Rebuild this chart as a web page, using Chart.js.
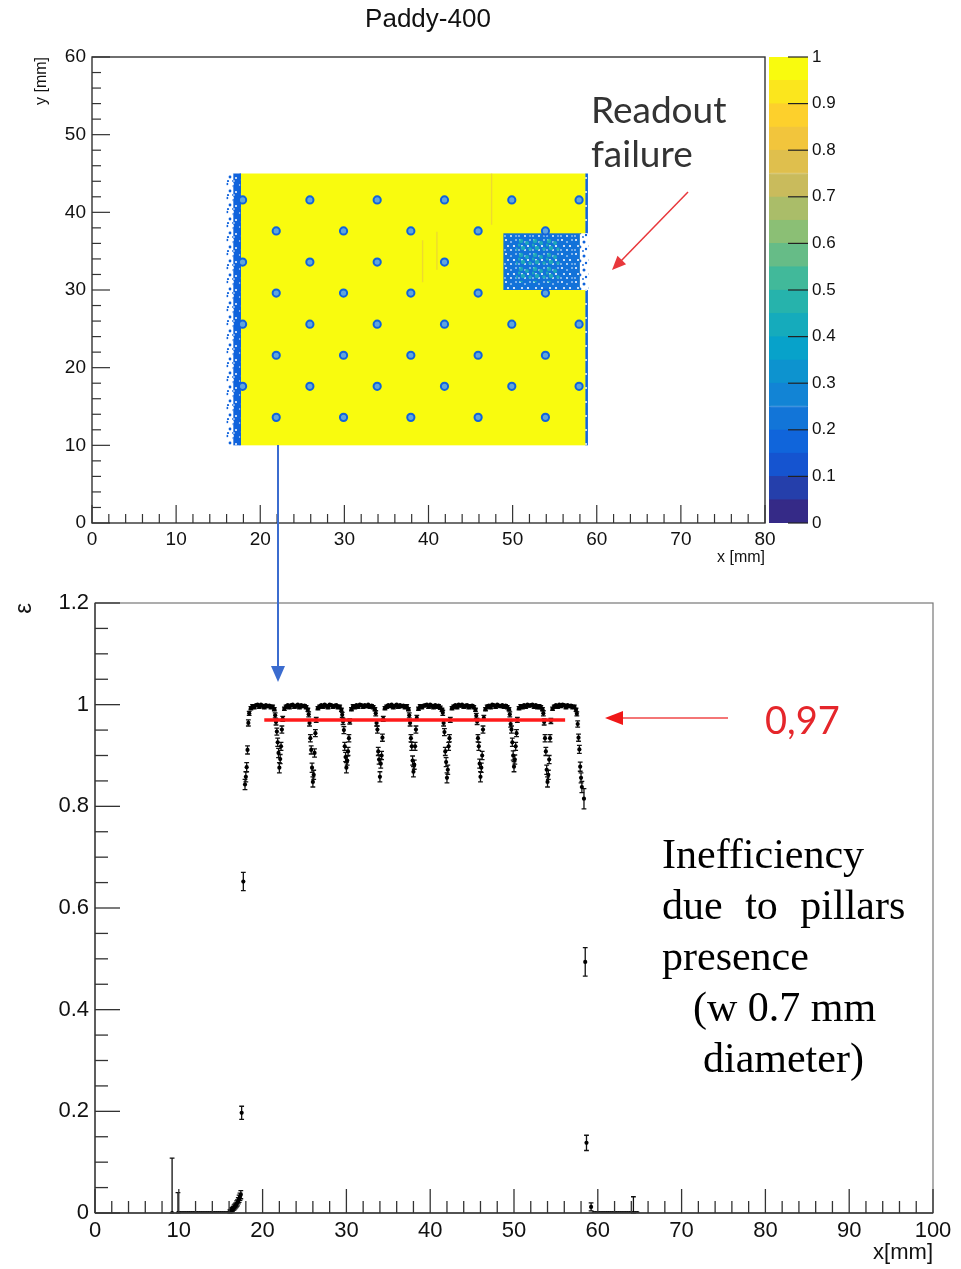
<!DOCTYPE html>
<html>
<head>
<meta charset="utf-8">
<script src="https://cdn.jsdelivr.net/npm/chart.js@4.4.1/dist/chart.umd.min.js"></script>
<style>
  body { margin: 0; background: #fff; width: 961px; height: 1269px; position: relative; overflow: hidden; }
  canvas { position: absolute; }
  #mapChart { left: 0; top: 0; }
  #paletteChart { left: 768px; top: 40px; }
  #profileChart { left: 0; top: 580px; }
  .note { position: absolute; white-space: nowrap; }
  .lato { font-family: Lato, "Open Sans", sans-serif; }
  .serif { font-family: "Liberation Serif", "DejaVu Serif", serif; color: #000; }
  svg { position: absolute; left: 0; top: 0; pointer-events: none; }
</style>
</head>
<body>
<canvas id="mapChart" width="800" height="575"></canvas>
<canvas id="paletteChart" width="100" height="500"></canvas>
<canvas id="profileChart" width="961" height="689"></canvas>

<div class="note" style="left:328px;top:3px;width:200px;text-align:center;font-family:'Liberation Sans',Arial,sans-serif;font-size:26px;color:#111">Paddy-400</div>
<div class="note lato" style="left:591px;top:87px;font-size:37px;line-height:44px;color:#333">Readout<br>failure</div>
<div class="note lato" style="left:765px;top:696px;font-size:38px;color:#e5262b">0,97</div>
<div class="note serif" style="left:662px;top:829px;font-size:42px;line-height:51px">
  <div>Inefficiency</div>
  <div style="word-spacing:12px">due to pillars</div>
  <div>presence</div>
  <div style="margin-left:31px">(w 0.7 mm</div>
  <div style="margin-left:41px">diameter)</div>
</div>

<svg width="961" height="1269">
  <line x1="688" y1="192" x2="620" y2="262" stroke="#e8383c" stroke-width="1.5"/>
  <polygon points="612,270 626.1,264.2 617.5,255.8" fill="#e8383c"/>
  <line x1="728" y1="718" x2="620" y2="718" stroke="#f04848" stroke-width="1.5"/>
  <polygon points="605,718 623,711 623,725" fill="#f01818"/>
  <line x1="278" y1="445" x2="278" y2="668" stroke="#3b6ccf" stroke-width="2"/>
  <polygon points="278,682 271,666 285,666" fill="#3b6ccf"/>
</svg>

<script>
// ---- efficiency map (x, y in mm) ----
const activeX = [17.7, 58.7];
const activeY = [10, 45];
const activeEff = 1.0;
const edgeBandX = [16.0, 16.8, 17.7];
const rightEdgeX = [58.65, 58.95];
const edgeEff = 0.15;
const failX = [48.9, 58.0, 58.9];
const failY = [30.0, 37.3];
const failEff = 0.2;
const failCoreX = [50.4, 55.6];
const failCoreY = [31.0, 36.6];
const failCoreEff = 0.45;
const weakStripX = [47.5, 41.0, 39.3];
const weakStripY0 = [38.4, 32.6, 31.0];
const weakStripY1 = [45.0, 37.5, 36.4];
const weakStripEff = 0.8;
const pillarRowY = [41.6, 37.6, 33.6, 29.6, 25.6, 21.6, 17.6, 13.6];
const pillarRowX = [
  [17.9, 25.9, 33.9, 41.9, 49.9, 57.9],
  [21.9, 29.9, 37.9, 45.9, 53.9],
  [17.9, 25.9, 33.9, 41.9],
  [21.9, 29.9, 37.9, 45.9, 53.9],
  [17.9, 25.9, 33.9, 41.9, 49.9, 57.9],
  [21.9, 29.9, 37.9, 45.9, 53.9],
  [17.9, 25.9, 33.9, 41.9, 49.9, 57.9],
  [21.9, 29.9, 37.9, 45.9, 53.9]
];
const pillarEff = 0.15;

// palette contour levels
const paletteLevels = [0, 0.05, 0.1, 0.15, 0.2, 0.25, 0.3, 0.35, 0.4, 0.45, 0.5,
  0.55, 0.6, 0.65, 0.7, 0.75, 0.8, 0.85, 0.9, 0.95, 1];

// ---- efficiency profile along x ----
const profileX = [
  9.2, 9.9,
  10.0, 10.25, 10.5, 10.75, 11.0, 11.25, 11.5, 11.75, 12.0, 12.25, 12.5, 12.75, 13.0,
  13.25, 13.5, 13.75, 14.0, 14.25, 14.5, 14.75, 15.0, 15.25, 15.5, 15.75, 16.0,
  16.1, 16.2, 16.3, 16.4, 16.5, 16.6, 16.7, 16.8, 16.9, 17.0, 17.1, 17.2, 17.3, 17.4,
  17.5, 17.7, 17.9, 18.0, 18.1, 18.2, 18.3, 18.4,
  18.6, 18.8, 19.0, 19.2, 19.4, 19.6, 19.8, 20.0, 20.2, 20.4, 20.6, 20.8, 21.0, 21.2, 21.4,
  21.5, 21.6, 21.7, 21.8, 21.9, 22.0, 22.1, 22.2, 22.3, 22.4,
  22.6, 22.8, 23.0, 23.2, 23.4, 23.6, 23.8, 24.0, 24.2, 24.4, 24.6, 24.8, 25.0, 25.2, 25.4,
  25.5, 25.6, 25.7, 25.8, 25.9, 26.0, 26.1, 26.2, 26.3, 26.4,
  26.6, 26.8, 27.0, 27.2, 27.4, 27.6, 27.8, 28.0, 28.2, 28.4, 28.6, 28.8, 29.0, 29.2, 29.4,
  29.5, 29.6, 29.7, 29.8, 29.9, 30.0, 30.1, 30.2, 30.3, 30.4,
  30.6, 30.8, 31.0, 31.2, 31.4, 31.6, 31.8, 32.0, 32.2, 32.4, 32.6, 32.8, 33.0, 33.2, 33.4,
  33.5, 33.6, 33.7, 33.8, 33.9, 34.0, 34.1, 34.2, 34.3, 34.4,
  34.6, 34.8, 35.0, 35.2, 35.4, 35.6, 35.8, 36.0, 36.2, 36.4, 36.6, 36.8, 37.0, 37.2, 37.4,
  37.5, 37.6, 37.7, 37.8, 37.9, 38.0, 38.1, 38.2, 38.3, 38.4,
  38.6, 38.8, 39.0, 39.2, 39.4, 39.6, 39.8, 40.0, 40.2, 40.4, 40.6, 40.8, 41.0, 41.2, 41.4,
  41.5, 41.6, 41.7, 41.8, 41.9, 42.0, 42.1, 42.2, 42.3, 42.4,
  42.6, 42.8, 43.0, 43.2, 43.4, 43.6, 43.8, 44.0, 44.2, 44.4, 44.6, 44.8, 45.0, 45.2, 45.4,
  45.5, 45.6, 45.7, 45.8, 45.9, 46.0, 46.1, 46.2, 46.3, 46.4,
  46.6, 46.8, 47.0, 47.2, 47.4, 47.6, 47.8, 48.0, 48.2, 48.4, 48.6, 48.8, 49.0, 49.2, 49.4,
  49.5, 49.6, 49.7, 49.8, 49.9, 50.0, 50.1, 50.2, 50.3, 50.4,
  50.6, 50.8, 51.0, 51.2, 51.4, 51.6, 51.8, 52.0, 52.2, 52.4, 52.6, 52.8, 53.0, 53.2, 53.4,
  53.5, 53.6, 53.7, 53.8, 53.9, 54.0, 54.1, 54.2, 54.3, 54.4,
  54.6, 54.8, 55.0, 55.2, 55.4, 55.6, 55.8, 56.0, 56.2, 56.4, 56.6, 56.8, 57.0, 57.2, 57.4,
  57.5, 57.6, 57.7, 57.8, 57.9, 58.0, 58.1, 58.35, 58.5, 58.65, 59.2,
  59.5, 59.75, 60.0, 60.25, 60.5, 60.75, 61.0, 61.25, 61.5, 61.75, 62.0,
  62.25, 62.5, 62.75, 63.0, 63.25, 63.5, 63.75, 64.0, 64.25, 64.5, 64.75
];
const profileEff = [
  0, 0,
  0, 0, 0, 0, 0, 0, 0, 0, 0, 0, 0, 0, 0,
  0, 0, 0, 0, 0, 0, 0, 0, 0, 0, 0, 0,
  0.003, 0.004, 0.006, 0.007, 0.009, 0.011, 0.013, 0.015, 0.018, 0.02, 0.024, 0.028, 0.032, 0.036,
  0.197, 0.652, 0.843, 0.858, 0.877, 0.911, 0.964, 0.983,
  0.993, 0.997, 0.995, 0.999, 1.0, 0.996, 1.0, 0.998, 0.995, 0.999, 0.997, 0.998, 0.995, 0.996, 0.991,
  0.979, 0.966, 0.947, 0.926, 0.905, 0.876, 0.893, 0.918, 0.951, 0.972,
  0.992, 0.996, 0.999, 0.995, 0.999, 1.0, 0.996, 0.998, 1.0, 0.995, 0.999, 0.997, 0.998, 0.995, 0.99,
  0.981, 0.964, 0.934, 0.911, 0.876, 0.848, 0.862, 0.905, 0.944, 0.97,
  0.993, 0.996, 0.999, 0.996, 1.0, 0.998, 0.995, 1.0, 0.999, 0.996, 0.998, 0.999, 0.995, 0.996, 0.99,
  0.98, 0.967, 0.95, 0.918, 0.897, 0.876, 0.89, 0.908, 0.934, 0.967,
  0.991, 0.997, 0.995, 0.999, 0.996, 1.0, 0.999, 0.996, 0.999, 0.997, 1.0, 0.996, 0.998, 0.995, 0.991,
  0.983, 0.964, 0.951, 0.908, 0.892, 0.858, 0.884, 0.9, 0.935, 0.972,
  0.993, 0.996, 0.999, 0.997, 1.0, 0.995, 0.998, 1.0, 0.996, 0.999, 0.997, 0.998, 0.995, 0.997, 0.991,
  0.979, 0.964, 0.934, 0.918, 0.89, 0.868, 0.882, 0.918, 0.951, 0.974,
  0.992, 0.997, 0.995, 0.998, 0.999, 1.0, 0.996, 1.0, 0.998, 0.995, 0.999, 0.996, 0.998, 0.994, 0.99,
  0.984, 0.964, 0.946, 0.908, 0.887, 0.856, 0.872, 0.918, 0.934, 0.97,
  0.993, 0.996, 0.999, 0.995, 1.0, 0.998, 1.0, 0.996, 0.998, 0.999, 0.995, 0.997, 0.998, 0.995, 0.99,
  0.978, 0.967, 0.934, 0.918, 0.884, 0.858, 0.876, 0.9, 0.951, 0.974,
  0.991, 0.996, 0.998, 0.995, 1.0, 0.999, 0.996, 1.0, 0.998, 0.997, 0.999, 0.996, 0.998, 0.995, 0.991,
  0.981, 0.962, 0.951, 0.926, 0.9, 0.878, 0.892, 0.918, 0.944, 0.97,
  0.993, 0.997, 0.995, 0.999, 0.996, 1.0, 0.998, 0.999, 1.0, 0.996, 0.999, 0.995, 0.997, 0.995, 0.991,
  0.983, 0.966, 0.934, 0.908, 0.872, 0.848, 0.862, 0.892, 0.934, 0.968,
  0.992, 0.996, 0.999, 0.996, 1.0, 0.997, 1.0, 0.999, 0.995, 0.999, 0.997, 0.998, 0.995, 0.996, 0.99,
  0.982, 0.962, 0.935, 0.912, 0.878, 0.856, 0.838, 0.815, 0.494, 0.138, 0.012,
  0, 0, 0, 0, 0, 0, 0, 0, 0, 0, 0,
  0, 0, 0, 0, 0, 0, 0, 0, 0, 0, 0
];
const profileErr = [
  0.108, 0.04,
  0, 0, 0, 0, 0, 0, 0, 0, 0, 0, 0, 0, 0,
  0, 0, 0, 0, 0, 0, 0, 0, 0, 0, 0, 0,
  0.003, 0.003, 0.004, 0.004, 0.004, 0.005, 0.005, 0.005, 0.006, 0.006, 0.006, 0.007, 0.007, 0.008,
  0.013, 0.018, 0.01, 0.01, 0.009, 0.008, 0.006, 0.004,
  0.003, 0.003, 0.003, 0.003, 0.003, 0.003, 0.003, 0.003, 0.003, 0.003, 0.003, 0.003, 0.003, 0.003, 0.003,
  0.005, 0.006, 0.007, 0.008, 0.009, 0.01, 0.009, 0.008, 0.007, 0.005,
  0.003, 0.003, 0.003, 0.003, 0.003, 0.003, 0.003, 0.003, 0.003, 0.003, 0.003, 0.003, 0.003, 0.003, 0.003,
  0.005, 0.006, 0.007, 0.008, 0.009, 0.01, 0.009, 0.008, 0.007, 0.005,
  0.003, 0.003, 0.003, 0.003, 0.003, 0.003, 0.003, 0.003, 0.003, 0.003, 0.003, 0.003, 0.003, 0.003, 0.003,
  0.005, 0.006, 0.007, 0.008, 0.009, 0.01, 0.009, 0.008, 0.007, 0.005,
  0.003, 0.003, 0.003, 0.003, 0.003, 0.003, 0.003, 0.003, 0.003, 0.003, 0.003, 0.003, 0.003, 0.003, 0.003,
  0.005, 0.006, 0.007, 0.008, 0.009, 0.01, 0.009, 0.008, 0.007, 0.005,
  0.003, 0.003, 0.003, 0.003, 0.003, 0.003, 0.003, 0.003, 0.003, 0.003, 0.003, 0.003, 0.003, 0.003, 0.003,
  0.005, 0.006, 0.007, 0.008, 0.009, 0.01, 0.009, 0.008, 0.007, 0.005,
  0.003, 0.003, 0.003, 0.003, 0.003, 0.003, 0.003, 0.003, 0.003, 0.003, 0.003, 0.003, 0.003, 0.003, 0.003,
  0.005, 0.006, 0.007, 0.008, 0.009, 0.01, 0.009, 0.008, 0.007, 0.005,
  0.003, 0.003, 0.003, 0.003, 0.003, 0.003, 0.003, 0.003, 0.003, 0.003, 0.003, 0.003, 0.003, 0.003, 0.003,
  0.005, 0.006, 0.007, 0.008, 0.009, 0.01, 0.009, 0.008, 0.007, 0.005,
  0.003, 0.003, 0.003, 0.003, 0.003, 0.003, 0.003, 0.003, 0.003, 0.003, 0.003, 0.003, 0.003, 0.003, 0.003,
  0.005, 0.006, 0.007, 0.008, 0.009, 0.01, 0.009, 0.008, 0.007, 0.005,
  0.003, 0.003, 0.003, 0.003, 0.003, 0.003, 0.003, 0.003, 0.003, 0.003, 0.003, 0.003, 0.003, 0.003, 0.003,
  0.005, 0.006, 0.007, 0.008, 0.009, 0.01, 0.009, 0.008, 0.007, 0.005,
  0.003, 0.003, 0.003, 0.003, 0.003, 0.003, 0.003, 0.003, 0.003, 0.003, 0.003, 0.003, 0.003, 0.003, 0.003,
  0.004, 0.006, 0.007, 0.008, 0.009, 0.01, 0.011, 0.02, 0.028, 0.015, 0.008,
  0, 0, 0, 0, 0, 0, 0, 0, 0, 0, 0,
  0, 0, 0, 0, 0, 0, 0, 0, 0.032, 0, 0
];
const plateauX = [20.2, 56.1];
const plateauEff = 0.97;

// ROOT "bird" palette
const birdStops = [0, 0.125, 0.25, 0.375, 0.5, 0.625, 0.75, 0.875, 1];
const birdR = [0.2082, 0.0592, 0.0780, 0.0232, 0.1802, 0.5301, 0.8186, 0.9956, 0.9764];
const birdG = [0.1664, 0.3599, 0.5041, 0.6419, 0.7178, 0.7492, 0.7328, 0.7862, 0.9832];
const birdB = [0.5293, 0.8684, 0.8385, 0.7914, 0.6425, 0.4662, 0.3499, 0.1968, 0.0539];

function birdColor(t, alpha = 1) {
  t = Math.min(1, Math.max(0, t));
  let i = 0;
  while (i < birdStops.length - 2 && t > birdStops[i + 1]) i++;
  const f = (t - birdStops[i]) / (birdStops[i + 1] - birdStops[i]);
  const c = k => Math.round(255 * (k[i] + f * (k[i + 1] - k[i])));
  return `rgba(${c(birdR)},${c(birdG)},${c(birdB)},${alpha})`;
}

// "1" instead of "1.0", as ROOT prints it
const plainNumber = v => String(+Number(v).toFixed(3));

Chart.defaults.font.family = '"Liberation Sans", Arial, Helvetica, sans-serif';
Chart.defaults.color = '#111';

// speckle tiles for the noisy border / dead readout areas
const holesFew = [[2, 3, 1.1], [9, 2, 0.9], [6, 8, 1.2], [12, 10, 1.0], [3, 12, 0.9], [10, 13, 0.8]];
const holesMany = [[2, 2, 1.0], [7, 4, 0.8], [12, 2, 0.8], [4, 8, 1.0], [10, 8, 1.1],
  [1, 12, 0.8], [7, 12, 0.9], [12, 12, 0.7]];
const spotsSparse = [[3, 2, 1.3], [10, 4, 1.5], [6, 9, 1.4], [1, 8, 1.0], [12, 11, 1.2], [4, 13, 1.1], [9, 13, 0.9]];
const spotsTeal = [[3, 3, 2.2], [9, 5, 2.0], [5, 10, 2.3], [12, 11, 1.8], [1, 7, 1.6]];

function makeTile(base, dots, dotColor) {
  const tile = document.createElement('canvas');
  tile.width = tile.height = 14;
  const g = tile.getContext('2d');
  g.fillStyle = base;
  g.fillRect(0, 0, 14, 14);
  g.fillStyle = dotColor;
  dots.forEach(([dx, dy, r]) => {
    g.beginPath();
    g.arc(dx, dy, r, 0, 2 * Math.PI);
    g.fill();
  });
  return tile;
}

// draws the binned map areas through the chart scales
const effMapLayer = {
  id: 'effMapLayer',
  beforeDatasetsDraw(chart) {
    const { ctx, chartArea: a, scales: { x, y } } = chart;
    const rect = (x0, x1, y0, y1, fill) => {
      const l = x.getPixelForValue(x0), r = x.getPixelForValue(x1);
      const t = y.getPixelForValue(y1), b = y.getPixelForValue(y0);
      ctx.fillStyle = fill;
      ctx.fillRect(l, t, r - l, b - t);
    };
    const pat = (base, dots, dotColor) => ctx.createPattern(makeTile(base, dots, dotColor), 'repeat');
    const edgeBlue = birdColor(edgeEff);

    ctx.save();
    ctx.beginPath();
    ctx.rect(a.left, a.top, a.right - a.left, a.bottom - a.top);
    ctx.clip();

    rect(activeX[0], activeX[1], activeY[0], activeY[1], birdColor(activeEff));
    rect(edgeBandX[0], edgeBandX[1], activeY[0], activeY[1], pat('#ffffff', spotsSparse, edgeBlue));
    rect(edgeBandX[1], edgeBandX[2], activeY[0], activeY[1], pat(edgeBlue, holesFew, '#ffffff'));
    rect(edgeBandX[2] - 0.15, edgeBandX[2], activeY[0], activeY[1], edgeBlue);
    rect(rightEdgeX[0], rightEdgeX[1], activeY[0], activeY[1], pat(edgeBlue, holesFew, '#ffffff'));

    rect(failX[0], failX[1], failY[0], failY[1], pat(birdColor(failEff), holesMany, '#ffffff'));
    rect(failCoreX[0], failCoreX[1], failCoreY[0], failCoreY[1], pat('rgba(0,0,0,0)', spotsTeal, birdColor(failCoreEff, 0.85)));
    rect(failX[1], failX[2] + 0.1, failY[0], failY[1], pat('#ffffff', spotsSparse, edgeBlue));

    weakStripX.forEach((sx, i) => {
      rect(sx - 0.08, sx + 0.08, weakStripY0[i], weakStripY1[i], birdColor(weakStripEff, 0.55));
    });
    ctx.restore();
  }
};

// ROOT style frame with ticks pointing inwards
const rootAxes = {
  id: 'rootAxes',
  afterDraw(chart, args, opts) {
    const { ctx, chartArea: a } = chart;
    ctx.save();
    if (opts.frame) {
      ctx.strokeStyle = opts.frameColor;
      ctx.lineWidth = opts.frameWidth;
      ctx.strokeRect(a.left, a.top, a.right - a.left, a.bottom - a.top);
    }
    ctx.strokeStyle = opts.tickColor;
    (opts.axes || []).forEach(ax => {
      const s = chart.scales[ax.id];
      const n = Math.round((s.max - s.min) / ax.minor);
      const every = Math.round(ax.major / ax.minor);
      ctx.lineWidth = ax.width;
      if (ax.line) {
        ctx.beginPath();
        if (ax.side === 'bottom') { ctx.moveTo(a.left, a.bottom); ctx.lineTo(a.right, a.bottom); }
        if (ax.side === 'left') { ctx.moveTo(a.left, a.top); ctx.lineTo(a.left, a.bottom); }
        ctx.stroke();
      }
      for (let i = 0; i <= n; i++) {
        const p = s.getPixelForValue(s.min + i * ax.minor);
        const len = i % every === 0 ? ax.majorLen : ax.minorLen;
        ctx.beginPath();
        if (ax.side === 'bottom') { ctx.moveTo(p, a.bottom); ctx.lineTo(p, a.bottom - len); }
        else if (ax.side === 'left') { ctx.moveTo(a.left, p); ctx.lineTo(a.left + len, p); }
        else { ctx.moveTo(a.right, p); ctx.lineTo(a.right - len, p); }
        ctx.stroke();
      }
    });
    ctx.restore();
  }
};

// vertical error bars with end caps, clamped to [0, 1]
const errorBars = {
  id: 'errorBars',
  beforeDatasetsDraw(chart) {
    const { ctx, scales: { x, y } } = chart;
    ctx.save();
    ctx.strokeStyle = '#111';
    ctx.lineWidth = 1.3;
    profileX.forEach((vx, i) => {
      const e = profileErr[i];
      if (!e) return;
      const px = x.getPixelForValue(vx);
      const lo = y.getPixelForValue(Math.max(0, profileEff[i] - e));
      const hi = y.getPixelForValue(Math.min(1, profileEff[i] + e));
      ctx.beginPath();
      ctx.moveTo(px, lo); ctx.lineTo(px, hi);
      ctx.moveTo(px - 2.4, lo); ctx.lineTo(px + 2.4, lo);
      ctx.moveTo(px - 2.4, hi); ctx.lineTo(px + 2.4, hi);
      ctx.stroke();
    });
    ctx.restore();
  }
};

// ---- 2D efficiency map ----
const pillarPoints = [];
pillarRowY.forEach((py, r) => pillarRowX[r].forEach(px => pillarPoints.push({ x: px, y: py })));

new Chart(document.getElementById('mapChart'), {
  type: 'scatter',
  data: {
    datasets: [{
      data: pillarPoints,
      pointRadius: 3.6,
      pointBackgroundColor: 'rgb(95,165,220)',
      pointBorderColor: birdColor(pillarEff),
      pointBorderWidth: 2
    }]
  },
  options: {
    responsive: false,
    animation: false,
    layout: { padding: { top: 57, right: 35, left: 0, bottom: 0 } },
    plugins: {
      legend: { display: false },
      tooltip: { enabled: false },
      rootAxes: {
        frame: true, frameColor: '#333', frameWidth: 1.4, tickColor: '#333',
        axes: [
          { id: 'x', side: 'bottom', major: 10, minor: 2, majorLen: 18, minorLen: 9, width: 1.2 },
          { id: 'y', side: 'left', major: 10, minor: 2, majorLen: 18, minorLen: 9, width: 1.2 }
        ]
      }
    },
    scales: {
      x: {
        type: 'linear', min: 0, max: 80,
        ticks: { stepSize: 10, font: { size: 19 }, padding: 5, autoSkip: false, callback: plainNumber },
        grid: { display: false, drawTicks: false },
        border: { display: false },
        title: { display: true, text: 'x [mm]', align: 'end', font: { size: 16 }, padding: { top: 0, bottom: 8 } },
        afterFit: s => { s.height = 52; }
      },
      y: {
        type: 'linear', min: 0, max: 60,
        ticks: { stepSize: 10, font: { size: 19 }, padding: 6, callback: plainNumber },
        grid: { display: false, drawTicks: false },
        border: { display: false },
        title: { display: true, text: 'y [mm]', align: 'end', font: { size: 16 }, padding: { top: 32, bottom: 0 } },
        afterFit: s => { s.width = 92; }
      }
    }
  },
  plugins: [effMapLayer, rootAxes]
});

// ---- palette axis ----
new Chart(document.getElementById('paletteChart'), {
  type: 'bar',
  data: {
    labels: ['eff'],
    datasets: paletteLevels.slice(0, -1).map((lo, i) => ({
      data: [[lo, paletteLevels[i + 1]]],
      backgroundColor: birdColor(i / (paletteLevels.length - 2)),
      borderColor: birdColor(i / (paletteLevels.length - 2)),
      borderWidth: 1,
      borderSkipped: false,
      barPercentage: 1,
      categoryPercentage: 1,
      grouped: false
    }))
  },
  options: {
    responsive: false,
    animation: false,
    layout: { padding: { top: 17, bottom: 17, left: 1, right: 0 } },
    plugins: {
      legend: { display: false },
      tooltip: { enabled: false },
      rootAxes: {
        frame: false, tickColor: '#222',
        axes: [{ id: 'y', side: 'right', major: 0.1, minor: 0.1, majorLen: 20, minorLen: 20, width: 1.2 }]
      }
    },
    scales: {
      x: { display: false },
      y: {
        position: 'right', min: 0, max: 1,
        ticks: { stepSize: 0.1, font: { size: 17 }, padding: 4, callback: plainNumber },
        grid: { display: false, drawTicks: false },
        border: { display: false },
        afterFit: s => { s.width = 60; }
      }
    }
  },
  plugins: [rootAxes]
});

// ---- efficiency profile ----
new Chart(document.getElementById('profileChart'), {
  type: 'scatter',
  data: {
    datasets: [
      {
        type: 'line',
        data: plateauX.map(x => ({ x, y: plateauEff })),
        borderColor: '#ff1a1a',
        borderWidth: 3.5,
        pointRadius: 0,
        order: 0
      },
      {
        data: profileX.map((x, i) => ({ x, y: profileEff[i] })),
        pointRadius: 2.1,
        pointBackgroundColor: '#000',
        pointBorderWidth: 0,
        order: 1
      }
    ]
  },
  options: {
    responsive: false,
    animation: false,
    layout: { padding: { top: 23, right: 28, left: 0, bottom: 0 } },
    plugins: {
      legend: { display: false },
      tooltip: { enabled: false },
      rootAxes: {
        frame: true, frameColor: '#777', frameWidth: 1.2, tickColor: '#333',
        axes: [
          { id: 'x', side: 'bottom', major: 10, minor: 2, majorLen: 24, minorLen: 12, width: 1.3, line: true },
          { id: 'y', side: 'left', major: 0.2, minor: 0.05, majorLen: 25, minorLen: 13, width: 1.3, line: true }
        ]
      }
    },
    scales: {
      x: {
        type: 'linear', min: 0, max: 100,
        ticks: { stepSize: 10, font: { size: 22 }, padding: 5, autoSkip: false, callback: plainNumber },
        grid: { display: false, drawTicks: false },
        border: { display: false },
        title: { display: true, text: 'x[mm]', align: 'end', font: { size: 22 }, padding: { top: 0, bottom: 3 } },
        afterFit: s => { s.height = 56; }
      },
      y: {
        type: 'linear', min: 0, max: 1.2,
        ticks: { stepSize: 0.2, font: { size: 22 }, padding: 6, callback: plainNumber },
        grid: { display: false, drawTicks: false },
        border: { display: false },
        title: { display: true, text: 'ε', align: 'end', font: { size: 24 }, padding: { top: 10, bottom: 0 } },
        afterFit: s => { s.width = 95; }
      }
    }
  },
  plugins: [errorBars, rootAxes]
});
</script>
</body>
</html>
